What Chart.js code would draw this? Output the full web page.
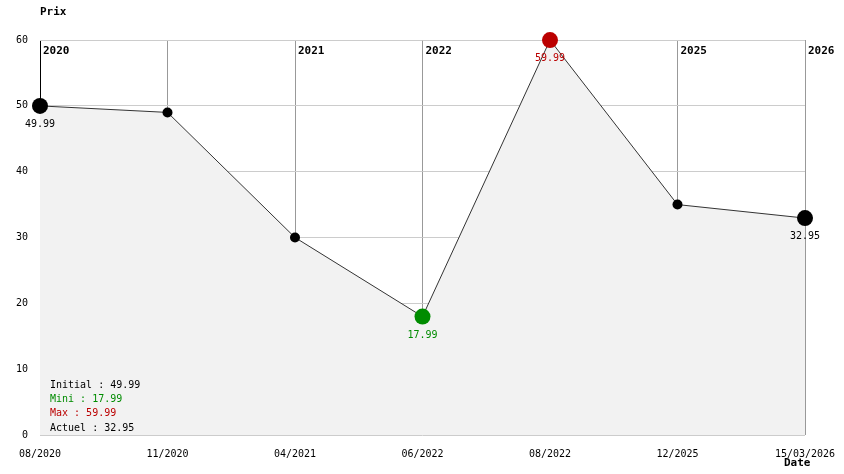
<!DOCTYPE html>
<html>
<head>
<meta charset="utf-8">
<script src="https://cdn.jsdelivr.net/npm/chart.js@4/dist/chart.umd.min.js"></script>
<style>
  body { margin: 0; background: #fff; }
  #wrap { width: 844px; height: 474px; }
</style>
</head>
<body>
<div id="wrap"><canvas id="myChart" width="844" height="474"></canvas></div>
<script>
// data
const dates = ["08/2020", "11/2020", "04/2021", "06/2022", "08/2022", "12/2025", "15/03/2026"];
const prices = [49.99, 49, 30, 17.99, 59.99, 35, 32.95];
const yearLabels = ["2020", "", "2021", "2022", "", "2025", "2026"];

const MONO = "'DejaVu Sans Mono', monospace";
const GREEN = "#008c00";
const RED = "#bb0000";

let minIdx = prices.indexOf(Math.min(...prices));
let maxIdx = prices.indexOf(Math.max(...prices));
let lastIdx = prices.length - 1;

function pointColor(i) {
  if (i === minIdx) return GREEN;
  if (i === maxIdx) return RED;
  return "#000";
}
function pointSize(i) {
  if (i === 0 || i === lastIdx || i === minIdx || i === maxIdx) return 8;
  return 5;
}

// texts drawn on top: year marks, value labels, summary box, axis titles
const extraText = {
  id: "extraText",
  afterDatasetsDraw(chart) {
    const c = chart.ctx;
    const xs = chart.scales.x;
    const ys = chart.scales.y;
    const area = chart.chartArea;
    c.save();

    c.font = "bold 11px " + MONO;
    c.fillStyle = "#000";
    c.textAlign = "left";
    c.textBaseline = "middle";
    yearLabels.forEach((lab, i) => {
      if (lab) c.fillText(lab, xs.getPixelForValue(i) + 3, area.top + 11);
    });

    c.fillText("Prix", 40, 12);
    c.fillText("Date", 784, 463);

    c.font = "10px " + MONO;
    c.textAlign = "center";
    [0, minIdx, maxIdx, lastIdx].forEach((i) => {
      c.fillStyle = pointColor(i);
      c.fillText(prices[i].toFixed(2), xs.getPixelForValue(i), ys.getPixelForValue(prices[i]) + 18.5);
    });

    c.textAlign = "left";
    const lines = [
      ["Initial : " + prices[0].toFixed(2), "#000"],
      ["Mini : " + prices[minIdx].toFixed(2), GREEN],
      ["Max : " + prices[maxIdx].toFixed(2), RED],
      ["Actuel : " + prices[lastIdx].toFixed(2), "#000"],
    ];
    lines.forEach((l, k) => {
      c.fillStyle = l[1];
      c.fillText(l[0], 50, 385 + k * 14.4);
    });
    c.restore();
  }
};

const ctx = document.getElementById("myChart");
new Chart(ctx, {
  type: "line",
  data: {
    labels: dates,
    datasets: [{
      data: prices,
      borderColor: "#333",
      borderWidth: 1,
      tension: 0,
      fill: "origin",
      backgroundColor: "#f2f2f2",
      pointRadius: prices.map((v, i) => pointSize(i)),
      pointHoverRadius: prices.map((v, i) => pointSize(i)),
      pointBackgroundColor: prices.map((v, i) => pointColor(i)),
      pointBorderColor: prices.map((v, i) => pointColor(i)),
      pointBorderWidth: 0,
      clip: false,
    }],
  },
  options: {
    responsive: false,
    animation: false,
    devicePixelRatio: 1,
    layout: { padding: { top: 40, right: 39, left: 0, bottom: 0 } },
    plugins: { legend: { display: false }, tooltip: { enabled: false } },
    scales: {
      x: {
        offset: false,
        border: { display: false },
        grid: {
          drawTicks: false,
          color: (c) => c.index === 0 ? "#000" : "#999",
        },
        ticks: {
          color: "#000",
          font: { family: MONO, size: 10 },
          maxRotation: 0,
          autoSkip: false,
          padding: 13,
        },
        afterFit: (s) => {
          s.height = 39;
          s.paddingLeft = 0;
          s.paddingRight = 0;
        },
      },
      y: {
        min: 0,
        max: 60,
        border: { display: false },
        grid: { drawTicks: false, color: "#ccc" },
        ticks: {
          stepSize: 10,
          color: "#000",
          font: { family: MONO, size: 10 },
          padding: 12,
        },
        afterFit: (s) => { s.width = 40; },
      },
    },
  },
  plugins: [extraText],
});
</script>
</body>
</html>
